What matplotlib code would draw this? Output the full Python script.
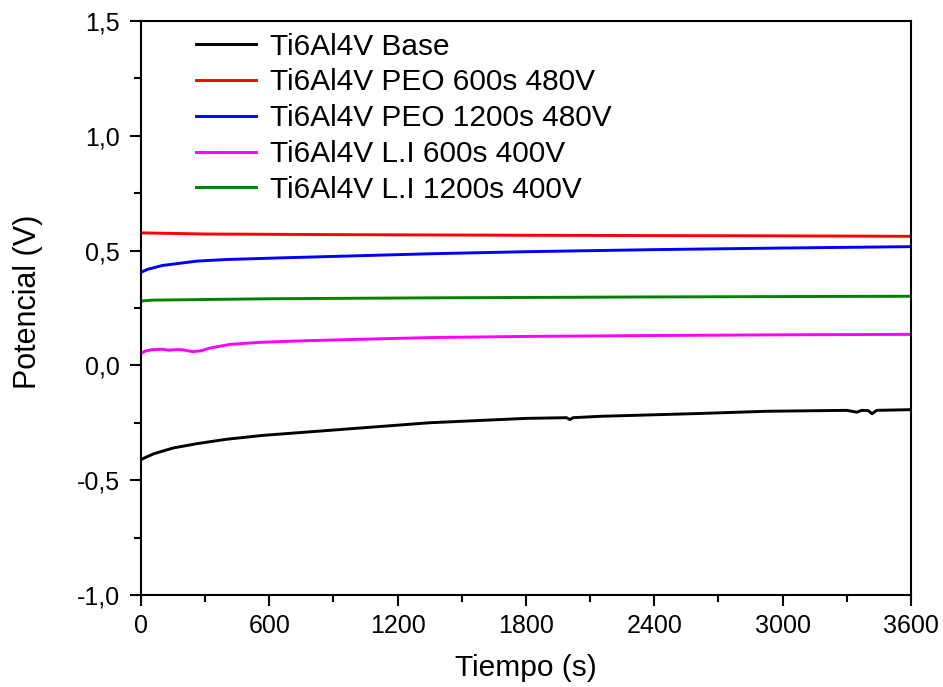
import matplotlib
matplotlib.use("Agg")
import matplotlib.pyplot as plt
from matplotlib.ticker import MultipleLocator, FuncFormatter

plt.rcParams["font.family"] = ["Liberation Sans", "DejaVu Sans"]

# open circuit potential vs time, read per series
t_base = [0, 60, 150, 262, 400, 570, 883, 1350, 1800, 1990, 2005, 2020, 2146, 2600,
          2926, 3300, 3347, 3370, 3400, 3418, 3440, 3600]
v_base = [-0.410, -0.385, -0.360, -0.341, -0.322, -0.305, -0.283, -0.250, -0.231,
          -0.228, -0.236, -0.228, -0.222, -0.210, -0.200, -0.196, -0.204, -0.196,
          -0.197, -0.211, -0.196, -0.193]

t_peo600 = [0, 300, 1000, 2000, 3000, 3600]
v_peo600 = [0.577, 0.572, 0.569, 0.566, 0.564, 0.562]

t_peo1200 = [0, 30, 100, 262, 400, 650, 1000, 1350, 1800, 2400, 3000, 3600]
v_peo1200 = [0.405, 0.418, 0.435, 0.454, 0.461, 0.468, 0.477, 0.486, 0.495, 0.504,
             0.511, 0.517]

t_li600 = [0, 20, 50, 100, 130, 170, 200, 240, 280, 320, 415, 550, 728, 1000, 1350,
           1800, 2400, 3000, 3600]
v_li600 = [0.052, 0.062, 0.068, 0.070, 0.066, 0.069, 0.067, 0.060, 0.063, 0.075,
           0.091, 0.100, 0.106, 0.113, 0.121, 0.126, 0.130, 0.133, 0.135]

t_li1200 = [0, 50, 600, 1350, 2400, 3600]
v_li1200 = [0.280, 0.284, 0.290, 0.294, 0.298, 0.301]

series = [
    (t_base, v_base, "black", "Ti6Al4V Base"),
    (t_peo600, v_peo600, "#ff0000", "Ti6Al4V PEO 600s 480V"),
    (t_peo1200, v_peo1200, "#0000ff", "Ti6Al4V PEO 1200s 480V"),
    (t_li600, v_li600, "#ff00ff", "Ti6Al4V L.I 600s 400V"),
    (t_li1200, v_li1200, "#008000", "Ti6Al4V L.I 1200s 400V"),
]

fig = plt.figure(figsize=(9.43, 6.87), dpi=100)
ax = fig.add_axes([0.1495, 0.134, 0.8165, 0.8355])

for t, v, c, lab in series:
    ax.plot(t, v, color=c, lw=2.1, label=lab)

ax.set_xlim(0, 3600)
ax.set_ylim(-1.0, 1.5)
ax.xaxis.set_major_locator(MultipleLocator(600))
ax.xaxis.set_minor_locator(MultipleLocator(300))
ax.yaxis.set_major_locator(MultipleLocator(0.5))
ax.yaxis.set_minor_locator(MultipleLocator(0.25))
ax.yaxis.set_major_formatter(FuncFormatter(lambda y, p: f"{y:.1f}".replace(".", ",")))

for s in ax.spines.values():
    s.set_linewidth(1.5)
ax.tick_params(which="major", direction="out", length=8, width=1.5, labelsize=18)
ax.tick_params(which="minor", direction="out", length=5, width=1.5)
ax.tick_params(axis="x", pad=6)
ax.tick_params(axis="y", pad=7)

ax.set_xlabel("Tiempo (s)", fontsize=21.5, labelpad=11)
ax.set_ylabel("Potencial (V)", fontsize=22)
ax.yaxis.set_label_coords(-0.127, 0.51)

ax.legend(loc="upper left", bbox_to_anchor=(0.064, 0.99), frameon=False,
          fontsize=21.5, handlelength=2.0, handletextpad=0.48, labelspacing=0.26,
          borderpad=0.2, borderaxespad=0)

fig.savefig("out.png", dpi=100)
